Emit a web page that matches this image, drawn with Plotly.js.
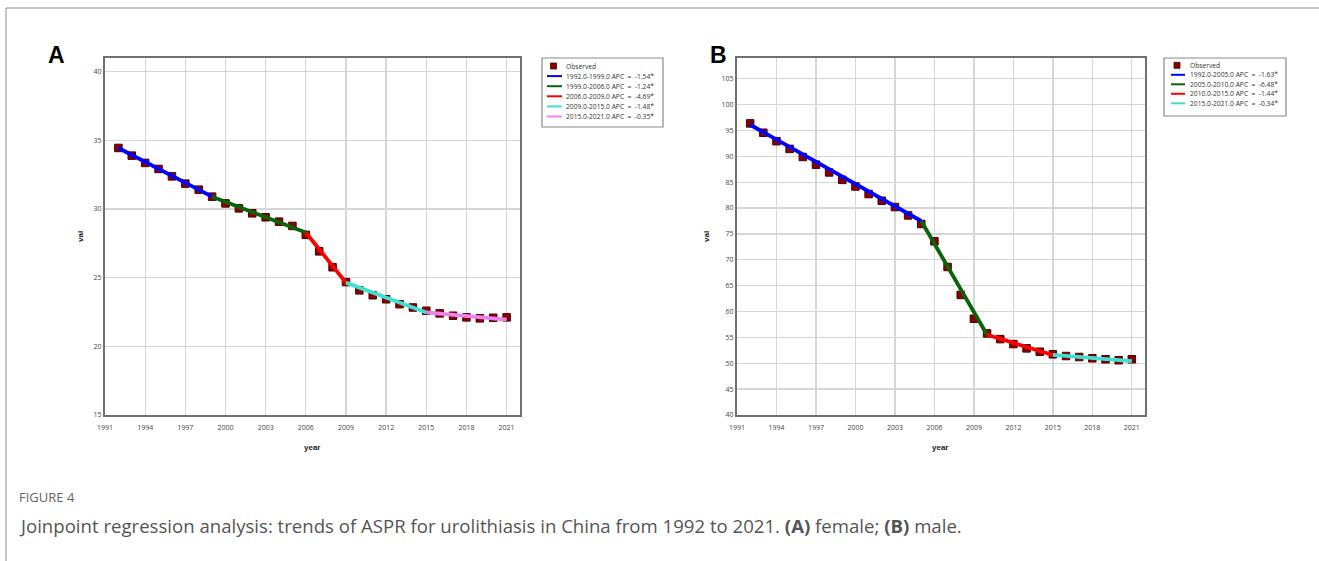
<!DOCTYPE html>
<html>
<head>
<meta charset="utf-8">
<script src="https://cdn.plot.ly/plotly-3.0.1.min.js"></script>
<style>html,body{margin:0;padding:0;background:#fff;}#chart{width:1319px;height:561px;}</style>
</head>
<body>
<div id="chart"></div>
<script>
// ---- data ----
var years = [1992,1993,1994,1995,1996,1997,1998,1999,2000,2001,2002,2003,2004,2005,2006,2007,2008,2009,2010,2011,2012,2013,2014,2015,2016,2017,2018,2019,2020,2021];
var femaleObs = [34.45,33.89,33.36,32.92,32.38,31.85,31.41,30.90,30.41,30.05,29.69,29.40,29.08,28.77,28.12,26.92,25.76,24.68,24.08,23.72,23.43,23.07,22.83,22.59,22.40,22.23,22.11,22.04,22.08,22.11];
var maleObs = [96.36,94.55,92.92,91.43,89.87,88.38,86.88,85.45,84.17,82.70,81.41,80.19,78.57,76.91,73.57,68.61,63.20,58.60,55.77,54.67,53.71,52.88,52.23,51.73,51.40,51.21,50.96,50.77,50.58,50.77];

var femaleJoinYears = [1992,1999,2006,2009,2015,2021];
var femaleJoinFit = [34.45,30.90,28.29,24.64,22.47,21.94];
var femaleSegNames = ['1992.0-1999.0 APC  =  -1.54*','1999.0-2006.0 APC  =  -1.24*','2006.0-2009.0 APC  =  -4.69*','2009.0-2015.0 APC  =  -1.48*','2015.0-2021.0 APC  =  -0.35*'];

var maleJoinYears = [1992,2005,2010,2015,2021];
var maleJoinFit = [96.10,77.50,55.50,51.60,50.40];
var maleSegNames = ['1992.0-2005.0 APC  =  -1.63*','2005.0-2010.0 APC  =  -6.48*','2010.0-2015.0 APC  =  -1.44*','2015.0-2021.0 APC  =  -0.34*'];

var segColors = ['#0000ff','#0a640a','#ff0000','#40e0d0','#ee82ee'];
var obsName = 'Observed';
var xTickYears = [1991,1994,1997,2000,2003,2006,2009,2012,2015,2018,2021];
var yTicksFemale = [15,20,25,30,35,40];
var yTicksMale = [40,45,50,55,60,65,70,75,80,85,90,95,100,105];

// ---- layout helpers ----
var W = 1319, H = 561;
function px(x){ return x / W; }
function py(y){ return 1 - y / H; }
function nb(s){ return s.replace(/ /g, '\u00a0'); }

var traces = [];
function addPanel(xa, ya, obs, jy, jf){
  traces.push({x: years, y: obs, xaxis: xa, yaxis: ya, mode: 'markers', type: 'scatter',
    marker: {symbol: 'square', size: 7.5, color: '#8b0000', line: {color: '#4a0000', width: 1}},
    showlegend: false, hoverinfo: 'x+y'});
  for (var i = 0; i < jy.length - 1; i++) {
    traces.push({x: [jy[i], jy[i+1]], y: [jf[i], jf[i+1]], xaxis: xa, yaxis: ya,
      mode: 'lines', type: 'scatter', line: {color: segColors[i], width: 3.8},
      showlegend: false});
  }
}
addPanel('x', 'y', femaleObs, femaleJoinYears, femaleJoinFit);
addPanel('x2', 'y2', maleObs, maleJoinYears, maleJoinFit);

var tickFont = {family: 'Open Sans, Arial, sans-serif', size: 7, color: '#444'};
function xAxis(domain){
  return {domain: domain, range: [1991, 2022], tickvals: xTickYears, ticktext: xTickYears.map(String),
    showgrid: true, gridcolor: '#d6d6d6', gridwidth: 1.3, zeroline: false,
    showline: true, mirror: true, linecolor: '#707070', linewidth: 2,
    ticks: 'outside', ticklen: 5, tickcolor: 'rgba(0,0,0,0)', tickfont: tickFont, fixedrange: true};
}
function yAxis(range, tv, anchor){
  return {domain: [py(415), py(58)], range: range, tickvals: tv, anchor: anchor,
    showgrid: true, gridcolor: '#d6d6d6', gridwidth: 1.3, zeroline: false,
    showline: true, mirror: true, linecolor: '#707070', linewidth: 2,
    ticks: '', tickfont: tickFont, fixedrange: true};
}

var shapes = [];
var annotations = [];

// figure frame lines
shapes.push({type: 'line', xref: 'paper', yref: 'paper', x0: px(6), x1: px(1319), y0: py(8), y1: py(8), line: {color: '#8a8a8a', width: 1}});
shapes.push({type: 'line', xref: 'paper', yref: 'paper', x0: px(6), x1: px(6), y0: py(8), y1: py(561), line: {color: '#8a8a8a', width: 1}});

var legFont = {family: 'Open Sans, Arial, sans-serif', size: 6.7, color: '#333'};
function legend(x0, y0, x1, y1, firstY, step, lineX0, lineX1, textX, names){
  shapes.push({type: 'rect', xref: 'paper', yref: 'paper', x0: px(x0), x1: px(x1), y0: py(y1), y1: py(y0),
    line: {color: '#8a8a8a', width: 1.2}, fillcolor: '#ffffff'});
  var mx = (lineX0 + lineX1) / 2 - 1;
  shapes.push({type: 'rect', xref: 'paper', yref: 'paper', x0: px(mx - 3), x1: px(mx + 3), y0: py(firstY + 3), y1: py(firstY - 3),
    line: {color: '#4a0000', width: 0.8}, fillcolor: '#8b0000'});
  annotations.push({xref: 'paper', yref: 'paper', x: px(textX), y: py(firstY), xanchor: 'left', yanchor: 'middle',
    text: obsName, showarrow: false, font: legFont});
  for (var i = 0; i < names.length; i++) {
    var yy = firstY + step * (i + 1);
    shapes.push({type: 'line', xref: 'paper', yref: 'paper', x0: px(lineX0), x1: px(lineX1), y0: py(yy), y1: py(yy),
      line: {color: segColors[i], width: 2}});
    annotations.push({xref: 'paper', yref: 'paper', x: px(textX), y: py(yy), xanchor: 'left', yanchor: 'middle',
      text: nb(names[i]), showarrow: false, font: legFont});
  }
}
legend(542, 58, 663, 127, 66, 10.1, 547, 562, 564, femaleSegNames);
legend(1164, 58, 1286, 116, 65.3, 9.5, 1171, 1185, 1188, maleSegNames);

// panel letters
annotations.push({xref: 'paper', yref: 'paper', x: px(56), y: py(55), xanchor: 'center', yanchor: 'middle', text: '<b>A</b>', showarrow: false,
  font: {family: 'Liberation Sans, Arial, sans-serif', size: 23, color: '#000'}});
annotations.push({xref: 'paper', yref: 'paper', x: px(718), y: py(55), xanchor: 'center', yanchor: 'middle', text: '<b>B</b>', showarrow: false,
  font: {family: 'Liberation Sans, Arial, sans-serif', size: 23, color: '#000'}});

// axis titles
var axTitleFont = {family: 'Liberation Sans, Arial, sans-serif', size: 8, color: '#222'};
annotations.push({xref: 'paper', yref: 'paper', x: px(80), y: py(237), text: '<b>val</b>', textangle: -90, showarrow: false, font: axTitleFont, xanchor: 'center', yanchor: 'middle'});
annotations.push({xref: 'paper', yref: 'paper', x: px(706), y: py(237), text: '<b>val</b>', textangle: -90, showarrow: false, font: axTitleFont, xanchor: 'center', yanchor: 'middle'});
annotations.push({xref: 'paper', yref: 'paper', x: px(312), y: py(447), text: '<b>year</b>', showarrow: false, font: axTitleFont, xanchor: 'center', yanchor: 'middle'});
annotations.push({xref: 'paper', yref: 'paper', x: px(940), y: py(447), text: '<b>year</b>', showarrow: false, font: axTitleFont, xanchor: 'center', yanchor: 'middle'});

// caption
annotations.push({xref: 'paper', yref: 'paper', x: px(17), y: py(497), xanchor: 'left', yanchor: 'middle', text: 'FIGURE 4', showarrow: false,
  font: {family: 'Open Sans, Arial, sans-serif', size: 13, color: '#666'}});
annotations.push({xref: 'paper', yref: 'paper', x: px(17), y: py(525), xanchor: 'left', yanchor: 'middle',
  text: 'Joinpoint regression analysis: trends of ASPR for urolithiasis in China from 1992 to 2021. <b>(A)</b> female; <b>(B)</b> male.', showarrow: false,
  font: {family: 'Open Sans, Arial, sans-serif', size: 18.6, color: '#555'}});

var layout = {
  width: W, height: H,
  margin: {l: 0, r: 0, t: 0, b: 0, pad: 0},
  paper_bgcolor: '#ffffff', plot_bgcolor: '#ffffff',
  showlegend: false,
  xaxis: xAxis([px(105), px(520)]),
  yaxis: yAxis([15, 41], yTicksFemale, 'x'),
  xaxis2: Object.assign(xAxis([px(737), px(1145)]), {anchor: 'y2'}),
  yaxis2: yAxis([40, 109], yTicksMale, 'x2'),
  shapes: shapes,
  annotations: annotations
};
layout.xaxis.anchor = 'y';

Plotly.newPlot('chart', traces, layout, {displayModeBar: false, staticPlot: true});
</script>
</body>
</html>
